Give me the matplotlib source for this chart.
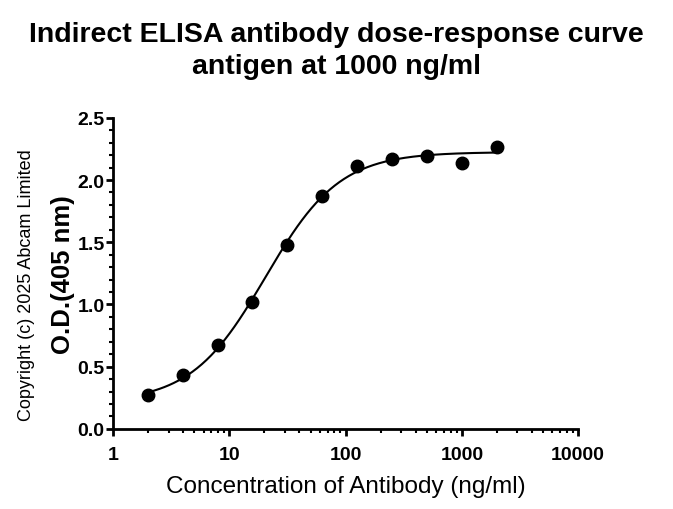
import matplotlib
matplotlib.use("Agg")
import matplotlib.pyplot as plt
from matplotlib.ticker import FixedLocator, NullFormatter, MultipleLocator
import numpy as np

plt.rcParams['font.family'] = ['Liberation Sans', 'DejaVu Sans']

conc = [2, 4, 8, 15.6, 31.25, 62.5, 125, 250, 500, 1000, 2000]
od = [0.27, 0.43, 0.675, 1.02, 1.48, 1.87, 2.11, 2.17, 2.19, 2.14, 2.265]
x_ticks = [1, 10, 100, 1000, 10000]
x_tick_labels = ["1", "10", "100", "1000", "10000"]

x = np.array(conc, dtype=float)
y = np.array(od, dtype=float)


def fit_4pl(x, y):
    # grid search on EC50 / hill, bottom and top by linear least squares
    lx = np.log10(x)
    best = None
    for logc in np.linspace(0.5, 2.5, 201):
        for h in np.linspace(0.5, 2.5, 201):
            s = 1.0 / (1.0 + 10 ** ((logc - lx) * h))
            A = np.column_stack([1 - s, s])
            coef, *_ = np.linalg.lstsq(A, y, rcond=None)
            r = np.sum((A @ coef - y) ** 2)
            if best is None or r < best[0]:
                best = (r, coef[0], coef[1], logc, h)
    return best[1:]


bottom, top, logc, hill = fit_4pl(x, y)
xf = np.logspace(np.log10(x.min()), np.log10(x.max()), 300)
sf = 1.0 / (1.0 + 10 ** ((logc - np.log10(xf)) * hill))
yf = bottom + (top - bottom) * sf

fig = plt.figure(figsize=(6.73, 5.10), dpi=100)
ax = fig.add_axes([0.168, 0.157, 0.691, 0.610])

ax.plot(xf, yf, color="black", linewidth=1.5, zorder=2)
ax.plot(x, y, "o", color="black", markersize=9, zorder=3, clip_on=False)

ax.set_xscale("log")
ax.set_xlim(1, 10000)
ax.set_ylim(0, 2.5)
ax.set_xticks(x_ticks)
ax.set_xticklabels(x_tick_labels)
minors = [m * 10 ** d for d in range(0, 4) for m in range(2, 10)]
ax.xaxis.set_minor_locator(FixedLocator(minors))
ax.xaxis.set_minor_formatter(NullFormatter())
ax.yaxis.set_minor_locator(MultipleLocator(0.1))
ax.set_yticks([0, 0.5, 1.0, 1.5, 2.0, 2.5])
ax.set_yticklabels(["0.0", "0.5", "1.0", "1.5", "2.0", "2.5"])

for s in ["top", "right"]:
    ax.spines[s].set_visible(False)
for s in ["left", "bottom"]:
    ax.spines[s].set_linewidth(2)

ax.tick_params(which="major", direction="out", length=5, width=2, labelsize=14)
ax.tick_params(axis="x", which="major", pad=7)
ax.tick_params(axis="y", which="major", pad=1)
ax.tick_params(which="minor", direction="out", length=3, width=1.5)
for lab in ax.get_xticklabels() + ax.get_yticklabels():
    lab.set_fontweight("bold")

ax.set_xlabel("Concentration of Antibody (ng/ml)", fontsize=17.5, labelpad=9)
ax.set_ylabel("O.D.(405 nm)", fontsize=18.5, fontweight="bold", labelpad=2)

fig.text(0.04, 0.44, "Copyright (c) 2025 Abcam Limited", rotation=90,
         fontsize=13, ha="center", va="center")

fig.text(0.5, 0.900, "Indirect ELISA antibody dose-response curve\nantigen at 1000 ng/ml",
         ha="center", va="center", fontsize=20.5, fontweight="bold",
         linespacing=1.32)

fig.savefig("out.png", dpi=100)
